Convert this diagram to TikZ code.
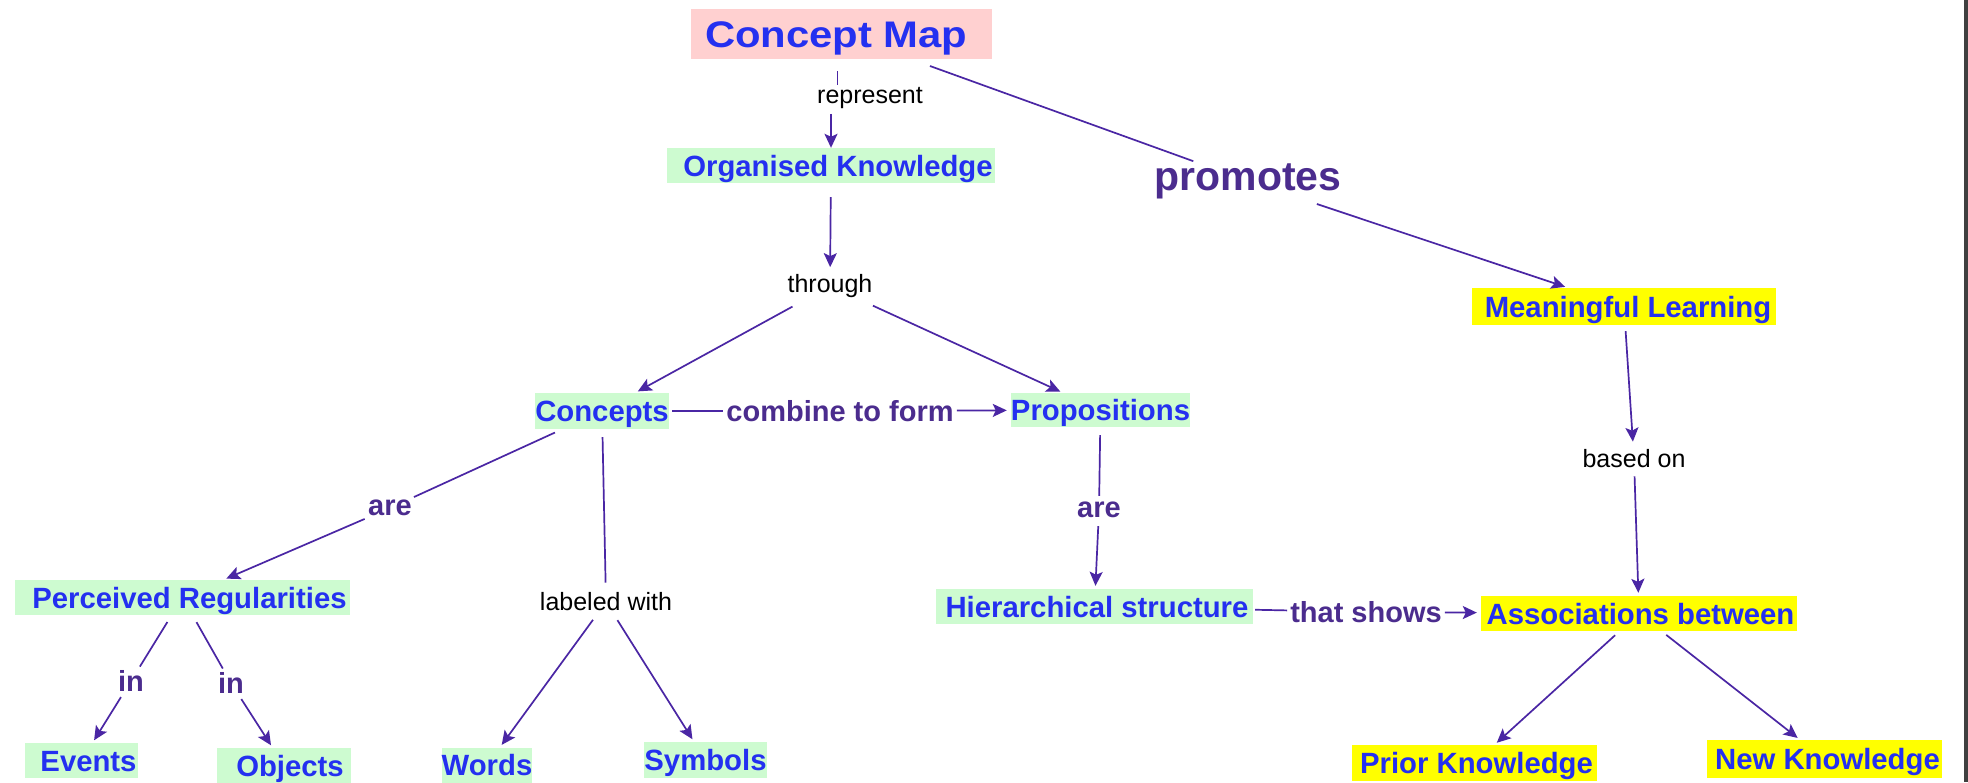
\documentclass[tikz,border=0pt]{standalone}
\usepackage{graphicx}
\usepackage{fontspec}
\setmainfont{Liberation Sans}
\usetikzlibrary{arrows.meta}

\definecolor{cblue}{HTML}{2430F0}
\definecolor{lpurple}{HTML}{4A26A4}
\definecolor{ltext}{HTML}{4B2C8E}
\definecolor{gfill}{HTML}{CDFBD0}
\definecolor{pfill}{HTML}{FFD0D0}
\definecolor{yfill}{HTML}{FFFF00}
\definecolor{edgegray}{HTML}{404040}

\begin{document}
\begin{tikzpicture}[x=1pt,y=-1pt,
  concept/.style={inner sep=0pt, text=cblue, text height=21pt, text depth=0pt,
    font=\fontsize{29.3}{31}\selectfont\bfseries},
  greenbox/.style={concept, fill=gfill},
  yellowbox/.style={concept, fill=yfill},
  blackphrase/.style={inner sep=2pt, text=black,
    font=\fontsize{25}{27}\selectfont},
  linkphrase/.style={inner sep=2pt, text=ltext,
    font=\fontsize{29}{31}\selectfont\bfseries},
  link/.style={draw=lpurple, line width=1.7pt},
  arr/.style={link, -{Stealth[length=14pt,width=13pt,inset=3pt]}},
]
% canvas
\useasboundingbox (0,0) rectangle (1968,782);
\fill[white] (0,0) rectangle (1968,782);
\fill[edgegray] (1964,0) rectangle (1968,782);

% concepts
\node[concept, fill=pfill, minimum width=301pt, minimum height=50pt,
      text height=26.5pt, font=\fontsize{37}{39}\selectfont\bfseries] (cmap) at (841.5,34)
      {\makebox[301pt][l]{\hspace*{14pt}\scalebox{1.13}[1]{Concept Map}}};
\node[greenbox, minimum width=328pt, minimum height=35pt] (ok) at (831,165.5) {\hspace*{14pt}Organised Knowledge};
\node[greenbox, minimum width=134pt, minimum height=36pt] (concepts) at (602,411) {Concepts};
\node[greenbox, minimum width=173pt, minimum height=34pt] (props) at (1100.5,410) {Propositions};
\node[greenbox, minimum width=335pt, minimum height=35pt] (perc) at (182.5,597.5) {\hspace*{14pt}Perceived Regularities};
\node[greenbox, minimum width=113pt, minimum height=35pt] (events) at (81.5,760.5) {\hspace*{14pt}Events};
\node[greenbox, minimum width=134pt, minimum height=35pt] (objects) at (284,765.5) {\hspace*{12pt}Objects};
\node[greenbox, minimum width=90pt, minimum height=35pt] (words) at (487,765) {Words};
\node[greenbox, minimum width=121pt, minimum height=36pt] (symbols) at (705.5,760) {Symbols};
\node[greenbox, minimum width=317pt, minimum height=35pt] (hier) at (1094.5,606.5) {\hspace*{5pt}Hierarchical structure};
\node[yellowbox, minimum width=304pt, minimum height=37pt] (ml) at (1624,306.5) {\hspace*{8pt}Meaningful Learning};
\node[yellowbox, minimum width=316pt, minimum height=35pt] (assoc) at (1639,613.5) {\hspace*{3pt}Associations between};
\node[yellowbox, minimum width=245pt, minimum height=36pt] (prior) at (1474.5,763) {\hspace*{4pt}Prior Knowledge};
\node[yellowbox, minimum width=235pt, minimum height=38pt] (newk) at (1824.5,759) {\hspace*{6pt}New Knowledge};

% linking phrases
\node[blackphrase] (represent) at (870,98) {represent};
\node[blackphrase] (through) at (830,286) {through};
\node[blackphrase] (labeled) at (606,602) {labeled with};
\node[blackphrase] (basedon) at (1634,459) {based on};
\node[linkphrase] (combine) at (840,411) {combine to form};
\node[linkphrase] (areL) at (390,508) {are};
\node[linkphrase] (areR) at (1099,510) {are};
\node[linkphrase] (inL) at (131,681) {in};
\node[linkphrase] (inR) at (231,683) {in};
\node[linkphrase] (shows) at (1366,612) {that shows};
\node[linkphrase, font=\fontsize{41}{43}\selectfont\bfseries] (promotes) at (1248,181) {promotes};

% connectors
\draw[link, shorten <=12pt] ([xshift=-4pt]cmap.south) -- ([xshift=-4pt]cmap.south |- represent.north);
\draw[arr, shorten <=3pt] (represent.south -| ok.north) -- (ok.north);
\draw[arr, shorten <=14pt, shorten >=5pt] (ok) -- (through);
\draw[arr, shorten <=14pt, shorten >=3pt] (through) -- (concepts);
\draw[arr, shorten <=14pt, shorten >=3pt] (through) -- (props);
\draw[link, shorten <=3pt, shorten >=1pt] (concepts) -- (combine);
\draw[arr, shorten <=1pt, shorten >=4pt] (combine) -- (props);
\draw[link, shorten <=8pt, shorten >=2pt] (concepts) -- (areL);
\draw[arr, shorten <=2pt, shorten >=3pt] (areL) -- (perc);
\draw[link, shorten <=8pt, shorten >=8pt] (concepts) -- (labeled);
\draw[arr, shorten <=8pt, shorten >=3pt] (labeled) -- (words);
\draw[arr, shorten <=8pt, shorten >=3pt] (labeled) -- (symbols);
\draw[link, shorten <=8pt, shorten >=2pt] (perc) -- (inL);
\draw[arr, shorten <=4pt, shorten >=3pt] (inL) -- (events);
\draw[link, shorten <=8pt, shorten >=2pt] (perc) -- (inR);
\draw[arr, shorten <=4pt, shorten >=3pt] (inR) -- (objects);
\draw[link, shorten <=8pt, shorten >=4pt] (props) -- (areR);
\draw[arr, shorten <=6pt, shorten >=3pt] (areR) -- (hier);
\draw[link, shorten <=2pt, shorten >=1pt] (hier) -- (shows);
\draw[arr, shorten <=1pt, shorten >=4pt] (shows) -- (assoc);
\draw[link, shorten <=20pt] (cmap) -- (promotes);
\draw[arr, shorten <=10pt, shorten >=3pt] (promotes) -- (ml);
\draw[arr, shorten <=6pt, shorten >=6pt] (ml) -- (basedon);
\draw[arr, shorten <=6pt, shorten >=3pt] (basedon) -- (assoc);
\draw[arr, shorten <=6pt, shorten >=3pt] (assoc) -- (prior);
\draw[arr, shorten <=6pt, shorten >=3pt] (assoc) -- (newk);
\end{tikzpicture}
\end{document}
